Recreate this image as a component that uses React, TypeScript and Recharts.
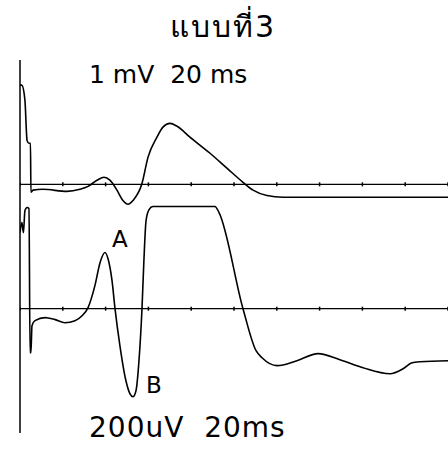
import React from 'react'
import { ComposedChart, Line, XAxis, YAxis, ReferenceLine, Scatter } from 'recharts'

// top trace: 1 mV / 20 ms per division
const topTime = [0, 0.9, 2.3, 3.3, 4.2, 4.9, 5.1, 6.1, 10.7, 22, 28, 31.8, 36, 39.3, 42, 45.3, 48.1, 50.5, 52.8, 57, 59.8, 64, 66.8, 70.1, 73.4, 79.4, 88.8, 96.7, 104.2, 108.9, 115.4, 122.9, 200]
const topMv = [2.4, 2.39, 2.03, 1.06, 0.99, 0.99, -0.19, -0.14, -0.12, -0.17, -0.12, -0.05, 0.1, 0.17, 0.1, -0.14, -0.39, -0.48, -0.39, 0.02, 0.65, 1.14, 1.38, 1.47, 1.4, 1.14, 0.75, 0.39, 0.05, -0.14, -0.27, -0.31, -0.31]

// bottom trace: 200 uV / 20 ms per division
const bottomTime = [0, 0.9, 1.6, 2.3, 3.3, 4.2, 4.7, 5.1, 5.6, 7, 11.7, 16.4, 21, 25.7, 29, 31.8, 35, 37.4, 39.7, 41.1, 43, 44.4, 46.7, 49.5, 51.4, 52.8, 54.2, 55.6, 57, 57.9, 58.9, 60.3, 62.1, 91.1, 93, 104.2, 110.3, 113.1, 120.1, 129.4, 139.3, 149.5, 160.3, 172.9, 179, 183.2, 187, 200]
const bottomUv = [367, 415, 367, 473, 488, 483, -213, -213, -82, -58, -43, -53, -68, -58, -34, 5, 111, 222, 271, 242, 135, 0, -179, -348, -411, -425, -396, -251, 0, 232, 425, 478, 493, 493, 464, 0, -203, -237, -275, -251, -217, -246, -285, -314, -290, -261, -256, -251]

const divisions = [0, 20, 40, 60, 80, 100, 120, 140, 160, 180, 200]
const mvTicks = [-6, -5, -4, -3, -2, -1, 0, 1, 2, 3]

const topData = topTime.map((t, i) => ({ t, v: topMv[i] }))
const bottomData = bottomTime.map((t, i) => ({ t, v: bottomUv[i] }))
const divData = divisions.map(t => ({ t, v: 0 }))

const font = '"DejaVu Sans", "Liberation Sans", sans-serif'

const TickMark = (props: any) => {
  const { cx, cy } = props
  return <line x1={cx} x2={cx} y1={cy - 2} y2={cy + 2} stroke="#000" strokeWidth={1.5} />
}

export default function App() {
  return (
    <div style={{ position: 'absolute', left: 0, top: 0, width: 448, height: 450, background: '#fff' }}>
      <ComposedChart width={448} height={450} margin={{ top: 60, right: 0, left: 19, bottom: 17 }}>
        <XAxis type="number" dataKey="t" domain={[0, 200]} allowDataOverflow hide />
        <YAxis
          yAxisId="mv"
          type="number"
          domain={[-6, 3]}
          ticks={mvTicks}
          allowDataOverflow
          width={1}
          tick={false}
          tickSize={4}
          axisLine={{ stroke: '#000', strokeWidth: 1.5 }}
          tickLine={{ stroke: '#000', strokeWidth: 1 }}
        />
        <YAxis yAxisId="uv" type="number" domain={[-600, 1200]} allowDataOverflow hide />
        <ReferenceLine yAxisId="mv" y={0} stroke="#000" strokeWidth={1.4} />
        <ReferenceLine yAxisId="uv" y={0} stroke="#000" strokeWidth={1.4} />
        <Scatter yAxisId="mv" data={divData} dataKey="v" shape={TickMark} isAnimationActive={false} />
        <Scatter yAxisId="uv" data={divData} dataKey="v" shape={TickMark} isAnimationActive={false} />
        <Line yAxisId="mv" data={topData} dataKey="v" type="monotone" stroke="#000" strokeWidth={1.6} dot={false} isAnimationActive={false} />
        <Line yAxisId="uv" data={bottomData} dataKey="v" type="monotone" stroke="#000" strokeWidth={1.6} dot={false} isAnimationActive={false} />
      </ComposedChart>
      <div style={{ position: 'absolute', left: 170, top: 12, fontFamily: font, fontSize: 30, lineHeight: 1, letterSpacing: 2, whiteSpace: 'pre' }}>
        แบบที่3
      </div>
      <div style={{ position: 'absolute', left: 89, top: 62, fontFamily: font, fontSize: 25, lineHeight: 1, whiteSpace: 'pre' }}>
        1 mV  20 ms
      </div>
      <div style={{ position: 'absolute', left: 112, top: 228, fontFamily: font, fontSize: 23, lineHeight: 1 }}>A</div>
      <div style={{ position: 'absolute', left: 146, top: 374, fontFamily: font, fontSize: 23, lineHeight: 1 }}>B</div>
      <div style={{ position: 'absolute', left: 89, top: 414, fontFamily: font, fontSize: 28, lineHeight: 1, whiteSpace: 'pre', letterSpacing: 1 }}>
        200uV  20ms
      </div>
    </div>
  )
}
